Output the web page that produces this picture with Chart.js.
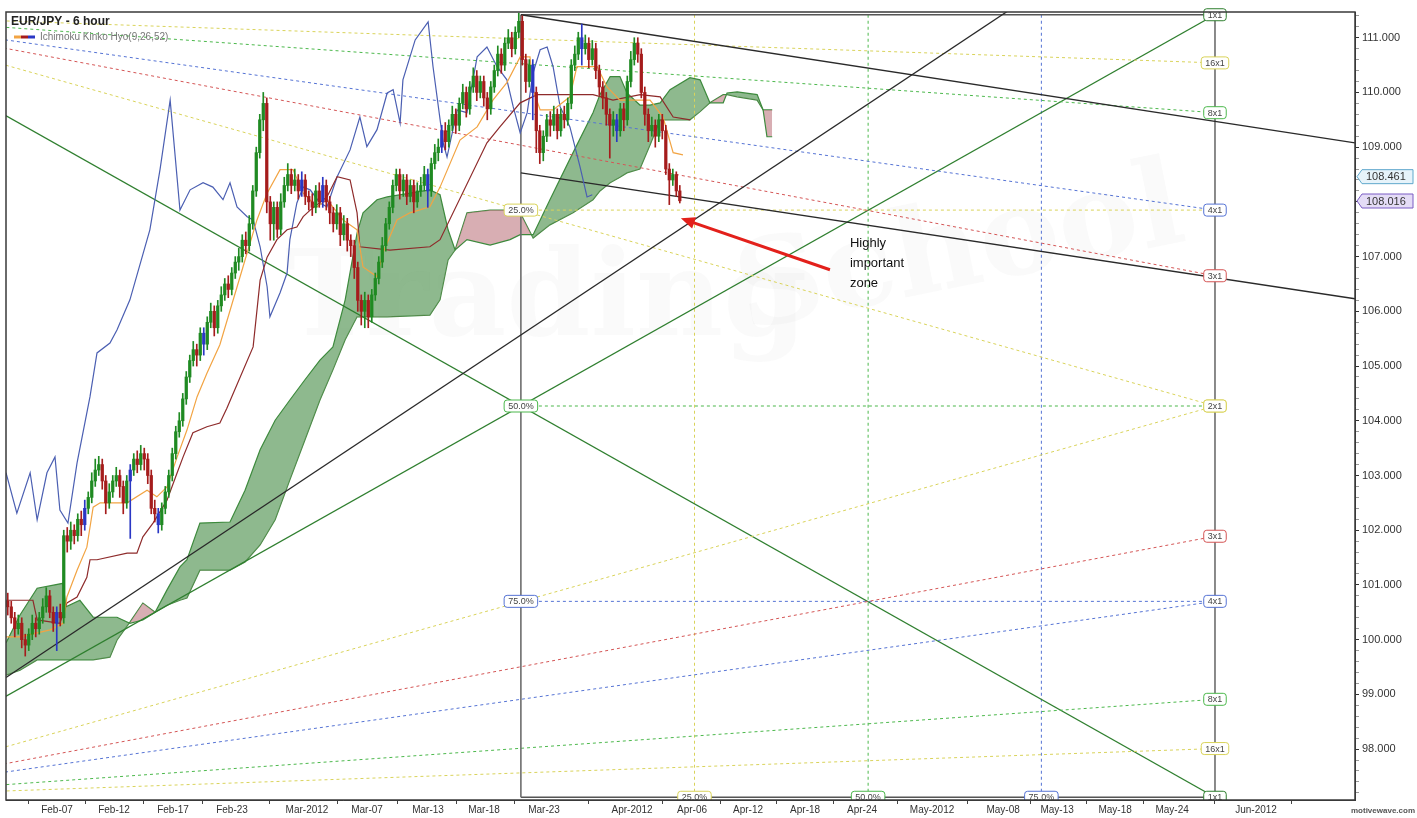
<!DOCTYPE html>
<html>
<head>
<meta charset="utf-8">
<script src="https://cdn.jsdelivr.net/npm/chart.js@4.4.1/dist/chart.umd.min.js"></script>
<style>
  html, body { margin: 0; padding: 0; background: #fff; }
  #wrap { width: 1417px; height: 818px; }
</style>
</head>
<body>
<div id="wrap"><canvas id="chart" width="1417" height="818"></canvas></div>
<script>
// ---- price bars (6 hour), x = bar index ----
const firstOpen = 100.7;
const closes = [
  100.6,100.4,100.2,100.3,100.0,99.9,100.1,100.3,100.2,100.4,
  100.6,100.8,100.5,100.3,100.5,100.4,101.9,101.8,102.0,101.9,
  102.2,102.1,102.4,102.6,102.9,103.1,103.2,102.9,102.5,102.7,
  102.9,103.0,102.8,102.5,102.9,103.1,103.3,103.2,103.4,103.3,
  103.0,102.4,102.3,102.1,102.4,102.7,103.0,103.4,103.8,104.0,
  104.4,104.8,105.1,105.3,105.2,105.6,105.4,105.8,106.0,105.7,
  106.1,106.3,106.5,106.4,106.7,106.9,107.0,107.3,107.2,107.6,
  108.2,108.9,109.5,109.8,108.0,107.6,107.9,107.5,108.0,108.3,
  108.5,108.3,108.4,108.2,108.4,108.1,108.0,107.9,108.2,108.0,
  108.3,108.0,107.8,107.6,107.8,107.4,107.6,107.3,107.2,106.8,
  106.2,106.0,106.2,105.9,106.3,106.6,106.9,107.2,107.6,107.9,
  108.3,108.5,108.2,108.4,108.1,108.3,108.0,108.2,108.3,108.5,
  108.2,108.7,108.9,109.0,109.3,109.1,109.4,109.6,109.4,109.8,
  110.0,109.7,110.1,110.3,110.0,110.2,109.9,109.7,110.1,110.4,
  110.7,110.5,110.9,111.0,110.8,111.1,111.3,110.6,110.2,110.5,
  110.0,109.3,108.9,109.2,109.5,109.4,109.6,109.3,109.6,109.5,
  109.8,110.5,110.7,111.0,110.8,110.9,110.6,110.8,110.4,110.1,
  109.9,109.6,109.4,109.5,109.3,109.7,109.5,110.2,110.6,110.9,
  110.7,110.0,109.6,109.3,109.4,109.2,109.5,109.3,108.6,108.4,
  108.5,108.2,108.02
];
const highs = [
  100.85,100.7,100.5,100.45,100.4,100.1,100.2,100.45,100.4,100.5,
  100.75,100.95,100.9,100.6,100.6,100.65,102.0,102.05,102.15,102.1,
  102.3,102.35,102.55,102.7,103.05,103.3,103.35,103.3,103.0,102.85,
  103.0,103.15,103.1,102.9,103.0,103.2,103.4,103.45,103.55,103.5,
  103.4,103.1,102.55,102.4,102.5,102.8,103.1,103.5,103.9,104.15,
  104.5,104.9,105.2,105.45,105.4,105.7,105.7,105.9,106.15,106.1,
  106.2,106.45,106.6,106.65,106.8,107.0,107.15,107.4,107.45,107.75,
  108.3,109.0,109.6,110.0,109.9,108.1,108.0,108.0,108.15,108.45,
  108.7,108.6,108.6,108.5,108.55,108.5,108.2,108.15,108.3,108.35,
  108.45,108.4,108.1,107.9,107.95,107.9,107.75,107.7,107.4,107.3,
  106.9,106.3,106.35,106.3,106.4,106.7,107.0,107.35,107.7,108.0,
  108.4,108.6,108.6,108.5,108.5,108.4,108.4,108.35,108.45,108.65,
  108.6,108.8,109.05,109.15,109.4,109.45,109.5,109.75,109.7,109.9,
  110.15,110.1,110.2,110.45,110.4,110.3,110.3,110.0,110.2,110.5,
  110.85,110.8,111.0,111.15,111.1,111.2,111.45,111.4,110.7,110.6,
  110.6,110.1,109.4,109.3,109.6,109.65,109.75,109.7,109.7,109.75,
  109.9,110.6,110.85,111.1,111.25,111.05,111.0,110.95,110.9,110.5,
  110.2,110.0,109.7,109.65,109.6,109.8,109.8,110.3,110.75,111.0,
  111.0,110.8,110.1,109.7,109.55,109.5,109.6,109.6,109.4,108.7,
  108.6,108.55,108.3
];
const lows = [
  100.45,100.3,100.05,100.1,99.85,99.7,99.8,100.0,100.05,100.1,
  100.3,100.5,100.4,100.15,99.8,100.25,100.3,101.6,101.65,101.75,
  101.8,101.9,102.0,102.3,102.5,102.8,103.0,102.75,102.3,102.4,
  102.6,102.8,102.6,102.3,102.4,101.85,103.0,103.05,103.1,103.1,
  102.85,102.3,102.15,101.95,102.0,102.3,102.6,102.9,103.3,103.7,
  103.9,104.3,104.7,105.0,105.0,105.1,105.2,105.3,105.7,105.55,
  105.6,106.0,106.2,106.25,106.3,106.6,106.75,106.9,107.05,107.1,
  107.5,108.1,108.8,109.3,107.8,107.3,107.3,107.35,107.4,107.9,
  108.2,108.15,108.2,108.05,108.1,107.95,107.85,107.75,107.8,107.9,
  107.9,107.85,107.6,107.45,107.5,107.2,107.3,107.1,107.0,106.6,
  106.0,105.75,105.7,105.7,105.8,106.2,106.5,106.8,107.1,107.5,
  107.8,108.2,108.05,108.1,107.95,108.0,107.8,107.9,108.1,108.2,
  107.9,108.1,108.6,108.75,108.9,108.95,109.0,109.3,109.25,109.3,
  109.7,109.55,109.6,110.0,109.85,109.9,109.75,109.5,109.6,110.0,
  110.3,110.35,110.4,110.8,110.65,110.7,111.0,110.5,110.0,110.1,
  109.5,108.9,108.7,108.75,109.1,109.2,109.3,109.15,109.2,109.35,
  109.4,109.7,110.4,110.6,110.5,110.7,110.45,110.5,110.25,109.95,
  109.7,109.4,108.8,109.2,109.1,109.2,109.3,109.4,110.1,110.5,
  110.55,109.9,109.4,109.1,109.2,109.0,109.1,109.15,108.5,107.95,
  108.3,108.1,107.98
];
const blueBars = [14, 22, 35, 43, 56, 84, 90, 120, 124, 150, 164, 174];

// ---- Ichimoku Kinko Hyo (9,26,52) ----
const tenkanX = [-0.5,3.5,12.1,15.8,16.9,19.8,22.6,24.4,26.4,34.1,39.8,42.6,45.5,48.4,51.2,54.1,56.9,60.6,67.2,71.2,74.1,77.8,81.5,84.4,88.4,91.2,95.8,99.8,101.5,105.5,107.2,111.2,114.9,120.6,123.5,129.2,134.1,138.6,142.6,146.4,149.2,150.1,152.1,155.8,160.6,162.6,168.4,171.2,174.9,183.5,187.2,190.1,192.9];
const tenkanY = [100.05,100.05,100.18,100.30,100.78,101.27,101.69,102.42,102.50,102.50,102.73,102.61,102.79,103.34,103.83,104.44,104.87,105.39,106.81,107.67,108.16,108.59,108.59,108.16,107.91,108.04,107.67,107.49,106.81,106.63,107.07,107.67,107.80,107.91,108.27,109.13,109.37,109.86,110.18,110.65,110.65,110.05,109.68,109.68,109.92,110.47,110.47,110.10,109.86,109.86,109.55,108.90,108.86];

const kijunX = [-0.5,7.2,8.4,14.9,16.9,19.8,22.6,23.5,25.5,34.1,36.9,38.6,41.5,45.5,48.4,50.1,52.9,56.9,60.6,62.6,70.1,72.1,74.1,76.9,79.8,82.6,84.4,86.4,91.2,94.1,97.8,99.8,100.6,109.2,120.6,123.5,136.9,140.6,146.4,151.2,167.2,172.9,180.7,186.4,190.1,195.0];
const kijunY = [100.72,100.72,100.36,100.30,100.67,100.78,101.14,101.46,101.46,101.58,101.58,101.88,102.13,102.55,103.05,103.34,103.78,103.89,103.96,104.23,105.35,106.57,106.99,107.31,107.49,107.54,107.73,107.85,108.09,108.46,108.40,107.80,107.18,107.12,107.18,107.31,109.08,109.37,109.81,109.96,109.96,109.86,109.96,109.92,109.55,109.50];

const chikouX = [-0.5,2.6,6.4,8.4,11.2,13.5,14.9,17.2,19.8,23.5,25.5,29.2,31.2,34.9,40.6,43.5,46.4,49.2,52.1,55.8,58.6,61.5,63.5,65.5,68.4,70.1,72.1,74.1,74.9,77.8,79.8,80.6,82.6,84.4,86.4,89.2,91.2,94.1,97.8,100.6,102.6,105.5,108.4,110.1,112.1,112.9,116.4,120.1,121.5,124.4,125.5,128.4,131.2,134.1,136.9,139.8,142.6,144.4,146.4,148.4,150.1,152.1,154.1,155.8,157.8,160.6,163.5,165.5,167.0];
const chikouY = [103.05,102.31,103.05,102.19,103.05,103.34,102.37,102.13,103.23,104.44,105.24,105.42,105.66,106.21,107.49,108.59,109.86,107.85,108.22,108.35,108.27,108.04,108.35,107.91,107.73,107.67,107.18,106.45,105.90,106.34,106.70,107.31,107.98,108.27,108.22,107.98,107.91,108.46,108.95,109.55,109.01,109.32,109.99,110.05,109.44,110.23,110.96,111.29,110.47,109.08,108.82,109.68,109.63,110.65,110.83,110.47,110.23,109.74,109.26,109.63,110.36,110.78,110.83,110.47,109.74,109.37,108.64,108.09,108.13];

const cloudX = [-0.5,3.5,8.4,15.8,16.6,20.6,24.4,29.2,31.2,34.9,38.6,42.1,45.5,49.2,51.2,54.9,63.5,67.8,72.1,76.4,80.6,84.9,89.2,92.9,96.4,99.8,101.5,105.5,108.4,120.6,123.5,125.8,127.8,131.2,137.8,143.5,146.4,150.1,154.9,161.5,167.2,169.2,172.1,174.9,176.9,180.6,183.5,186.4,189.2,194.9,197.8,200.6,204.4,205.5,208.4,214.1,215.8,216.9,218.4];
const spanA = [99.94,100.45,100.94,101.03,100.60,100.72,100.41,100.41,100.41,100.30,100.36,100.50,100.91,101.33,101.46,102.13,102.15,102.73,103.47,104.01,104.38,104.75,105.11,105.35,106.21,107.43,107.80,108.04,108.09,108.22,108.13,107.49,107.12,107.31,107.21,107.31,107.40,107.40,108.04,108.90,109.63,109.96,110.29,110.29,109.99,109.77,109.77,109.81,110.05,110.27,110.23,109.81,109.81,109.99,110.01,109.96,109.68,109.19,109.19];
const spanB = [99.35,99.44,99.63,99.63,99.63,99.63,99.63,99.68,99.99,100.32,100.67,100.50,100.63,100.72,100.76,101.27,101.27,101.42,101.73,102.19,102.92,103.65,104.38,104.93,105.48,105.90,105.90,105.90,105.90,105.93,106.21,106.94,107.12,107.80,107.85,107.85,107.80,107.34,107.58,107.80,108.04,108.20,108.35,108.45,108.53,108.60,109.04,109.50,109.50,109.50,109.65,109.81,109.96,109.96,109.92,109.86,109.68,109.68,109.68];

// ---- Gann box / fans ----
const gannStart = 146.6, gannEnd = 344.9;
const gannTop = 111.42, gannBottom = 97.12;
const fanOrigin = -51.7;
const fanLabels = ['16x1', '8x1', '4x1', '3x1', '2x1', '1x1'];
const upperFanLevels = [110.54, 109.63, 107.85, 106.65, 104.27, 97.12];
const lowerFanLevels = [98.01, 98.91, 100.70, 101.89, 104.27, 111.42];
const pctLabels = ['25.0%', '50.0%', '75.0%'];
const pctTimes = [196.2, 245.8, 295.3];
const pctPrices = [107.85, 104.27, 100.70];

// ---- trend lines [bar, price] ----
const channelUpper = [[146.6, 111.42], [384.9, 109.08]];
const channelLower = [[146.6, 108.53], [384.9, 106.23]];
const risingLine = [[-0.5, 99.31], [290, 111.67]];
const arrowFrom = [234.9, 106.76], arrowTo = [192.3, 107.70];
const noteAt = [240.6, 107.25];
const noteLines = ['Highly', 'important', 'zone'];

// ---- axes ----
const xTickBars = [14.07, 30.36, 47.21, 64.07, 85.5, 102.64, 120.07, 136.07, 153.21, 178.36, 195.5, 211.5, 227.79, 244.07, 264.07, 284.36, 299.79, 316.36, 332.64, 356.64, 376.64];
const xTickLabels = ['Feb-07', 'Feb-12', 'Feb-17', 'Feb-23', 'Mar-2012', 'Mar-07', 'Mar-13', 'Mar-18', 'Mar-23', 'Apr-2012', 'Apr-06', 'Apr-12', 'Apr-18', 'Apr-24', 'May-2012', 'May-08', 'May-13', 'May-18', 'May-24', 'Jun-2012', ''];
const priceTags = [108.461, 108.016];

// styles
const UP = '#1f8a22', DOWN = '#a51c1c', NEUTRAL = '#2a37c4';
const fanColors = ['#d9d35a', '#4cb84c', '#5573d4', '#d45555', '#d9d35a', '#2f7f2f'];
const pctColors = ['#d9d35a', '#4cb84c', '#5573d4'];
const tagStyles = [{ border: '#5fa8cc', fill: '#e6f3fa' }, { border: '#7b5cc4', fill: '#e4dcf6' }];

Chart.defaults.font.family = 'Arial, "Liberation Sans", sans-serif';

const opens = closes.map((c, i) => i === 0 ? firstOpen : closes[i - 1]);
const barColors = closes.map((c, i) => blueBars.includes(i) ? NEUTRAL : (c >= opens[i] ? UP : DOWN));

function pts(xs, ys) { return xs.map((x, i) => ({ x: x, y: ys[i] })); }
function pairs(list) { return list.map(p => ({ x: p[0], y: p[1] })); }
function line(data, color, width, dash, order) {
  return { type: 'line', data: data, borderColor: color, borderWidth: width, borderDash: dash || [],
    pointRadius: 0, fill: false, tension: 0, order: order };
}

const datasets = [];
// cloud
datasets.push(Object.assign(line(pts(cloudX, spanA), '#3d8a3d', 1.2, null, 30), {
  fill: { target: '+1', above: 'rgba(88,152,88,0.68)', below: 'rgba(190,120,128,0.6)' }
}));
datasets.push(line(pts(cloudX, spanB), '#3d8a3d', 1.2, null, 30));

// gann fans
fanLabels.forEach((lab, k) => {
  const solid = lab === '1x1';
  datasets.push(line(pairs([[fanOrigin, gannTop], [gannEnd, upperFanLevels[k]]]), fanColors[k], solid ? 1.4 : 1, solid ? null : [3, 3], 20));
  datasets.push(line(pairs([[fanOrigin, gannBottom], [gannEnd, lowerFanLevels[k]]]), fanColors[k], solid ? 1.4 : 1, solid ? null : [3, 3], 20));
});
// gann quarter lines
pctTimes.forEach((t, k) => {
  datasets.push(line(pairs([[t, gannTop], [t, gannBottom]]), pctColors[k], 1, [3, 3], 21));
  datasets.push(line(pairs([[gannStart, pctPrices[k]], [gannEnd, pctPrices[k]]]), pctColors[k], 1, [3, 3], 21));
});
// gann box frame
datasets.push(line(pairs([[gannStart, gannTop], [gannStart, gannBottom]]), '#6e6e6e', 1.6, null, 18));
datasets.push(line(pairs([[gannEnd, gannTop], [gannEnd, gannBottom]]), '#6e6e6e', 1.6, null, 18));
datasets.push(line(pairs([[gannStart, gannBottom], [gannEnd, gannBottom]]), '#555', 1.4, null, 18));
datasets.push(line(pairs([[gannStart, gannTop], [gannEnd, gannTop]]), '#555', 1.4, null, 18));
// trend / channel
datasets.push(line(pairs(channelUpper), '#2a2a2a', 1.3, null, 17));
datasets.push(line(pairs(channelLower), '#2a2a2a', 1.3, null, 17));
datasets.push(line(pairs(risingLine), '#2a2a2a', 1.3, null, 17));
// ichimoku lines
datasets.push(line(pts(chikouX, chikouY), '#4b5fb2', 1.2, null, 8));
datasets.push(line(pts(kijunX, kijunY), '#8e2b2b', 1.2, null, 7));
datasets.push(line(pts(tenkanX, tenkanY), '#f2a443', 1.2, null, 6));
// candles
datasets.push({ type: 'bar', data: closes.map((c, i) => ({ x: i, y: [lows[i], highs[i]] })),
  backgroundColor: barColors, borderWidth: 0, barThickness: 1, grouped: false, order: 2 });
datasets.push({ type: 'bar', data: closes.map((c, i) => ({ x: i, y: [opens[i], c] })),
  backgroundColor: barColors, borderWidth: 0, barThickness: 2.6, minBarLength: 1, grouped: false, order: 1 });

function roundRect(ctx, x, y, w, h, r) {
  ctx.beginPath();
  ctx.moveTo(x + r, y);
  ctx.arcTo(x + w, y, x + w, y + h, r);
  ctx.arcTo(x + w, y + h, x, y + h, r);
  ctx.arcTo(x, y + h, x, y, r);
  ctx.arcTo(x, y, x + w, y, r);
  ctx.closePath();
}
function tag(ctx, cx, cy, text, color) {
  ctx.font = '9px Arial, "Liberation Sans", sans-serif';
  const w = ctx.measureText(text).width + 8, h = 12;
  roundRect(ctx, cx - w / 2, cy - h / 2, w, h, 3);
  ctx.fillStyle = '#fff';
  ctx.fill();
  ctx.lineWidth = 1;
  ctx.strokeStyle = color;
  ctx.stroke();
  ctx.fillStyle = '#444';
  ctx.textAlign = 'center';
  ctx.textBaseline = 'middle';
  ctx.fillText(text, cx, cy + 0.5);
}

const watermark = {
  id: 'watermark',
  beforeDatasetsDraw(chart) {
    const ctx = chart.ctx;
    ctx.save();
    ctx.fillStyle = 'rgba(110,110,110,0.035)';
    ctx.font = 'bold 120px "DejaVu Serif", serif';
    ctx.textBaseline = 'alphabetic';
    ctx.fillText('Trading', 285, 335);
    ctx.translate(745, 330);
    ctx.rotate(-0.2);
    ctx.fillText('School', 0, 0);
    ctx.restore();
  }
};

const overlay = {
  id: 'overlay',
  afterDatasetsDraw(chart) {
    const ctx = chart.ctx, x = chart.scales.x, y = chart.scales.y, a = chart.chartArea;
    ctx.save();
    ctx.beginPath();
    ctx.rect(a.left, a.top - 8, a.right - a.left, a.bottom - a.top + 8);
    ctx.clip();
    // fan labels
    fanLabels.forEach((lab, k) => {
      tag(ctx, x.getPixelForValue(gannEnd), y.getPixelForValue(upperFanLevels[k]), lab, fanColors[k]);
      tag(ctx, x.getPixelForValue(gannEnd), y.getPixelForValue(lowerFanLevels[k]), lab, fanColors[k]);
    });
    pctLabels.forEach((lab, k) => {
      tag(ctx, x.getPixelForValue(gannStart), y.getPixelForValue(pctPrices[k]), lab, pctColors[k]);
      tag(ctx, x.getPixelForValue(pctTimes[k]), y.getPixelForValue(gannBottom), lab, pctColors[k]);
    });
    // arrow
    const x1 = x.getPixelForValue(arrowFrom[0]), y1 = y.getPixelForValue(arrowFrom[1]);
    const x2 = x.getPixelForValue(arrowTo[0]), y2 = y.getPixelForValue(arrowTo[1]);
    const ang = Math.atan2(y2 - y1, x2 - x1);
    ctx.strokeStyle = '#e3201b';
    ctx.fillStyle = '#e3201b';
    ctx.lineWidth = 3;
    ctx.beginPath();
    ctx.moveTo(x1, y1);
    ctx.lineTo(x2 - 10 * Math.cos(ang), y2 - 10 * Math.sin(ang));
    ctx.stroke();
    ctx.beginPath();
    ctx.moveTo(x2, y2);
    ctx.lineTo(x2 - 14 * Math.cos(ang) + 6 * Math.sin(ang), y2 - 14 * Math.sin(ang) - 6 * Math.cos(ang));
    ctx.lineTo(x2 - 14 * Math.cos(ang) - 6 * Math.sin(ang), y2 - 14 * Math.sin(ang) + 6 * Math.cos(ang));
    ctx.closePath();
    ctx.fill();
    // note
    ctx.fillStyle = '#111';
    ctx.font = '13px Arial, "Liberation Sans", sans-serif';
    ctx.textAlign = 'left';
    ctx.textBaseline = 'middle';
    const nx = x.getPixelForValue(noteAt[0]), ny = y.getPixelForValue(noteAt[1]);
    noteLines.forEach((t, i) => ctx.fillText(t, nx, ny + i * 20));
    ctx.restore();

    // frame
    ctx.save();
    ctx.strokeStyle = '#3a3a3a';
    ctx.lineWidth = 1.5;
    ctx.strokeRect(a.left, a.top, a.right - a.left, a.bottom - a.top);
    // title + legend
    ctx.fillStyle = '#222';
    ctx.font = 'bold 12px Arial, "Liberation Sans", sans-serif';
    ctx.textAlign = 'left';
    ctx.textBaseline = 'middle';
    ctx.fillText('EUR/JPY - 6 hour', a.left + 5, a.top + 10);
    [['#f2a443', 0], ['#a51c1c', 7], ['#2a37c4', 14]].forEach(s => {
      ctx.strokeStyle = s[0];
      ctx.lineWidth = 3;
      ctx.beginPath();
      ctx.moveTo(a.left + 8 + s[1], a.top + 25);
      ctx.lineTo(a.left + 15 + s[1], a.top + 25);
      ctx.stroke();
    });
    ctx.fillStyle = '#777';
    ctx.font = '10px Arial, "Liberation Sans", sans-serif';
    ctx.fillText('Ichimoku Kinko Hyo(9,26,52)', a.left + 34, a.top + 25);
    // price tags on the axis
    priceTags.forEach((p, k) => {
      const py = y.getPixelForValue(p), px = a.right + 2;
      ctx.beginPath();
      ctx.moveTo(px, py);
      ctx.lineTo(px + 5, py - 7);
      ctx.lineTo(px + 56, py - 7);
      ctx.lineTo(px + 56, py + 7);
      ctx.lineTo(px + 5, py + 7);
      ctx.closePath();
      ctx.fillStyle = tagStyles[k].fill;
      ctx.fill();
      ctx.strokeStyle = tagStyles[k].border;
      ctx.lineWidth = 1;
      ctx.stroke();
      ctx.fillStyle = '#333';
      ctx.font = '11px Arial, "Liberation Sans", sans-serif';
      ctx.fillText(p.toFixed(3), px + 9, py + 0.5);
    });
    ctx.fillStyle = '#555';
    ctx.font = 'bold 8px Arial, "Liberation Sans", sans-serif';
    ctx.textAlign = 'right';
    ctx.fillText('motivewave.com', chart.width - 2, a.bottom + 11);
    ctx.restore();
  }
};

new Chart(document.getElementById('chart'), {
  type: 'line',
  data: { datasets: datasets },
  options: {
    responsive: false,
    animation: false,
    layout: { padding: { left: 6, top: 12, right: 0, bottom: 0 } },
    plugins: { legend: { display: false }, tooltip: { enabled: false } },
    scales: {
      x: {
        type: 'linear', min: -0.5, max: 384.9, offset: false,
        afterBuildTicks: s => { s.ticks = xTickBars.map(v => ({ value: v })); },
        afterFit: s => { s.height = 18; },
        ticks: { autoSkip: false, maxRotation: 0, padding: 0, color: '#333', font: { size: 10 },
          callback: (v, i) => xTickLabels[i] },
        grid: { drawOnChartArea: false, tickLength: 4, color: '#444' },
        border: { display: true, color: '#3a3a3a' }
      },
      y: {
        position: 'right', min: 97.07, max: 111.47,
        afterBuildTicks: s => {
          const t = [];
          for (let v = 97.2; v < 111.45; v += 0.2) t.push({ value: Math.round(v * 10) / 10 });
          s.ticks = t;
        },
        afterFit: s => { s.width = 62; },
        ticks: { autoSkip: false, padding: 3, color: '#333', font: { size: 11 },
          callback: v => Math.abs(v - Math.round(v)) < 1e-6 ? v.toFixed(3) : '' },
        grid: { drawOnChartArea: false, tickLength: 4,
          color: c => (c.tick && Math.abs(c.tick.value - Math.round(c.tick.value)) < 1e-6) ? '#333' : '#999' },
        border: { display: true, color: '#3a3a3a' }
      }
    }
  },
  plugins: [watermark, overlay]
});
</script>
</body>
</html>
